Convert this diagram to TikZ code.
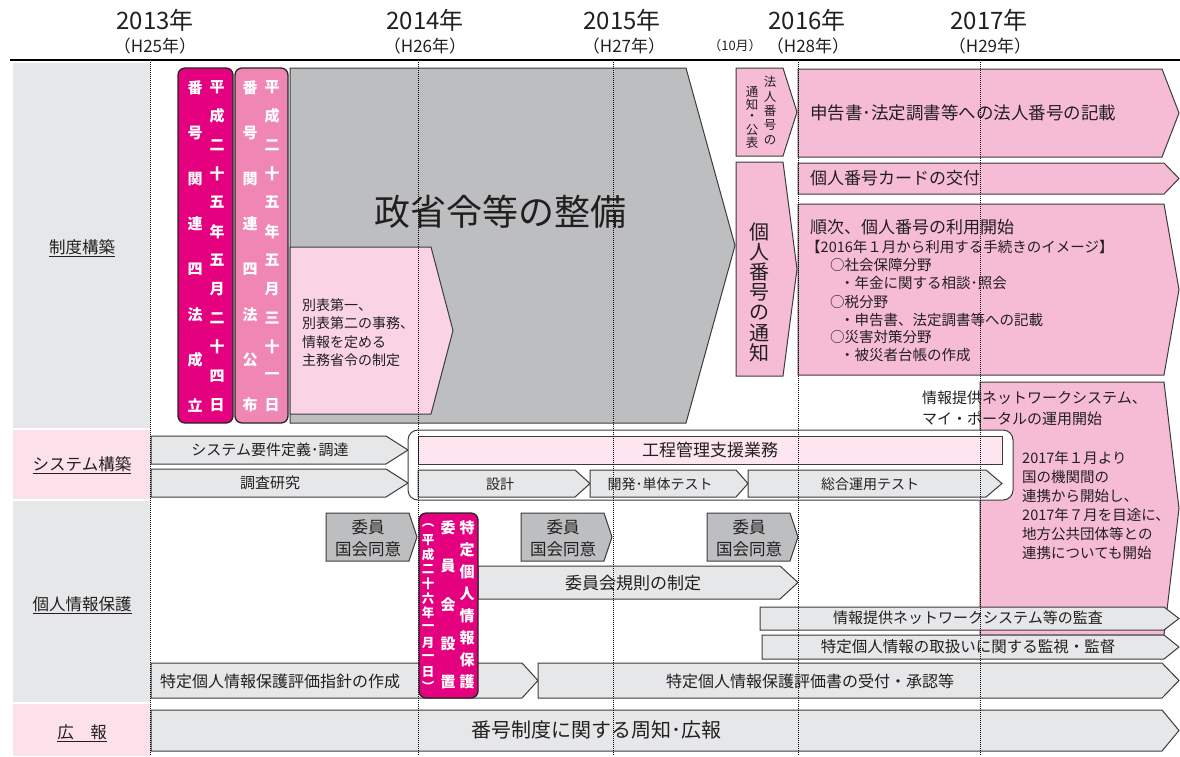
\documentclass[tikz,border=0pt]{standalone}
\usepackage{fontspec}
\setmainfont{Noto Sans CJK JP}
\definecolor{magentaA}{HTML}{E4007F}
\definecolor{pinkmid}{HTML}{EF86B4}
\definecolor{pinkarrow}{HTML}{F6BCD5}
\definecolor{pinklight}{HTML}{FAD4E4}
\definecolor{pinkpale}{HTML}{FDE6EF}
\definecolor{graydark}{HTML}{BCBEC0}
\definecolor{graylight}{HTML}{E6E7E8}
\definecolor{labelgray}{HTML}{E6E7E8}
\definecolor{labelpink}{HTML}{FCE1EB}
\definecolor{edgec}{HTML}{3C3C3C}
\definecolor{ink}{HTML}{231F20}
\newcommand\fs[1]{\fontsize{#1}{#1}\selectfont}
\newcommand\arrowshape[6]{%
  \draw[#1] (#2,#3) -- ({#4-#6},#3) -- (#4,{(#3+#5)/2}) -- ({#4-#6},#5) -- (#2,#5) -- cycle;}
\newcommand\vcolumn[5]{%
  \foreach \ch [count=\i from 0] in {#5} {\node[#4] at (#1,{#2+\i*#3}) {\ch};}}
\tikzset{
  lgarrow/.style={fill=graylight, draw=edgec, line width=1pt, line join=miter},
  dgarrow/.style={fill=graydark, draw=edgec, line width=1pt},
  pkarrow/.style={fill=pinkarrow, draw=edgec, line width=1pt},
  plarrow/.style={fill=pinklight, draw=edgec, line width=1pt},
  magbox/.style={draw=black!85, line width=1.3pt, rounded corners=7},
  txt/.style={inner sep=0pt, text=ink},
  vch/.style={inner sep=0pt, text=white, font=\bfseries\fs{15}},
  vchs/.style={inner sep=0pt, text=white, font=\bfseries\fs{12.5}},
  vsmall/.style={inner sep=0pt, text=ink, font=\fs{12.5}},
  vbig/.style={inner sep=0pt, text=ink, font=\fs{20}},
  gridl/.style={black, line width=0.7pt, dash pattern=on 1pt off 1pt},
  rowlabel/.style={inner sep=0pt, text=ink, font=\fs{16.5}},
  yearl/.style={inner sep=0pt, text=ink, font=\fs{24}},
  heil/.style={inner sep=0pt, text=ink, font=\fs{17}},
}
\begin{document}
\begin{tikzpicture}[x=1pt,y=-1pt]
\useasboundingbox (0,0) rectangle (1180,756);
% label column
\fill[labelgray] (13,63) rectangle (150,428);
\fill[labelpink] (13,430) rectangle (150,499);
\fill[labelgray] (13,501) rectangle (150,702);
\fill[labelpink] (13,704) rectangle (150,756);
\node[rowlabel] (lab1) at (82,248) {\underline{制度構築}};
\node[rowlabel] (lab2) at (82,465) {\underline{システム構築}};
\node[rowlabel] (lab3) at (82,605) {\underline{個人情報保護}};
\node[rowlabel] (lab4) at (82,733) {\underline{広　報}};
% header
\draw[line width=2pt, black] (10,60) -- (1180,60);
\node[yearl] (y13) at (155,20) {2013年};
\node[heil] (h25) at (155,46) {（H25年）};
\node[yearl] (y14) at (425,20) {2014年};
\node[heil] (h26) at (425,46) {（H26年）};
\node[yearl] (y15) at (622,20) {2015年};
\node[heil] (h27) at (624,46) {（H27年）};
\node[txt, font=\fs{13}] (oct) at (735,46) {（10月）};
\node[yearl] (y16) at (807,20) {2016年};
\node[heil] (h28) at (808,46) {（H28年）};
\node[yearl] (y17) at (989,20) {2017年};
\node[heil] (h29) at (990,46) {（H29年）};
% row 1
\arrowshape{dgarrow}{290}{68}{735}{423}{49}
\node[txt, font=\fs{36}] (seisho) at (500,212) {政省令等の整備};
\arrowshape{plarrow}{290}{247}{453}{414}{22}
\node[txt, anchor=north west, align=left, font=\fontsize{14}{18.5}\selectfont] (beppyo) at (302,298) {別表第一、\\別表第二の事務、\\情報を定める\\主務省令の制定};
\arrowshape{pkarrow}{736}{68}{797}{156}{14}
\vcolumn{770}{82}{14.5}{vsmall}{法,人,番,号,の}
\vcolumn{752}{92}{12.8}{vsmall}{通,知,・,公,表}
\arrowshape{pkarrow}{736}{162}{797}{376}{14}
\vcolumn{759}{232}{20.2}{vbig}{個,人,番,号,の,通,知}
\arrowshape{pkarrow}{798}{69}{1179}{157}{17}
\node[txt, anchor=west, font=\fs{17.5}] (shinkoku) at (810,113) {申告書･法定調書等への法人番号の記載};
\arrowshape{pkarrow}{798}{163}{1179}{194}{15}
\node[txt, anchor=west, font=\fs{17}] (card) at (810,178) {個人番号カードの交付};
\arrowshape{pkarrow}{798}{204}{1179}{375}{15}
\node[txt, anchor=west, font=\fs{17}] (junji) at (810,227) {順次、個人番号の利用開始};
\node[txt, anchor=west, font=\fs{14.5}] (img) at (806,247) {【2016年１月から利用する手続きのイメージ】};
\node[txt, anchor=west, font=\fs{14.5}] (j1) at (830,265) {○社会保障分野};
\node[txt, anchor=west, font=\fs{14.5}] (j2) at (840,283) {・年金に関する相談･照会};
\node[txt, anchor=west, font=\fs{14.5}] (j3) at (830,302) {○税分野};
\node[txt, anchor=west, font=\fs{14.5}] (j4) at (840,320) {・申告書、法定調書等への記載};
\node[txt, anchor=west, font=\fs{14.5}] (j5) at (830,337) {○災害対策分野};
\node[txt, anchor=west, font=\fs{14.5}] (j6) at (840,355) {・被災者台帳の作成};
% big pink on right
\arrowshape{pkarrow}{980}{382}{1179}{635}{15}
\node[txt, anchor=north west, align=left, font=\fontsize{15}{21}\selectfont] (netw) at (922,390.5) {情報提供ネットワークシステム、\\マイ・ポータルの運用開始};
\node[txt, anchor=north west, align=left, font=\fontsize{14.5}{19}\selectfont] (y2017) at (1022,451) {2017年１月より\\国の機関間の\\連携から開始し、\\2017年７月を目途に、\\地方公共団体等との\\連携についても開始};
% magenta boxes row 1
\draw[magbox, fill=magentaA] (178,68) rectangle (233,423);
\vcolumn{217}{87}{28.9}{vch}{平,成,二,十,五,年,五,月,二,十,四,日}
\vcolumn{195}{88}{45.3}{vch}{番,号,関,連,四,法,成,立}
\draw[magbox, fill=pinkmid] (235,68) rectangle (288,423);
\vcolumn{272}{87}{28.9}{vch}{平,成,二,十,五,年,五,月,三,十,一,日}
\vcolumn{250}{88}{45.3}{vch}{番,号,関,連,四,法,公,布}
% row 2
\arrowshape{lgarrow}{151}{436}{408}{464}{22}
\node[txt, font=\fs{15}] (youken) at (270,450) {システム要件定義･調達};
\arrowshape{lgarrow}{151}{469}{408}{497}{22}
\node[txt, font=\fs{15}] (chousa) at (270,483) {調査研究};
\draw[draw=edgec, line width=1pt, fill=white, rounded corners=10] (408,430) rectangle (1013,500);
\draw[draw=edgec, line width=1pt, fill=pinkpale] (418,436) rectangle (1002,464);
\node[txt, font=\fs{17}] (koutei) at (710,450) {工程管理支援業務};
\arrowshape{lgarrow}{418}{470}{590}{497}{15}
\node[txt, font=\fs{14}] (sekkei) at (500,484) {設計};
\arrowshape{lgarrow}{590}{470}{748}{497}{12}
\node[txt, font=\fs{14}] (kaihatsu) at (660,484) {開発･単体テスト};
\arrowshape{lgarrow}{748}{470}{1002}{497}{16}
\node[txt, font=\fs{14}] (sougou) at (870,484) {総合運用テスト};
% row 3
\arrowshape{dgarrow}{326}{513}{417}{561}{8}
\node[txt, font=\fs{16.5}] (iin1a) at (368,527) {委員};
\node[txt, font=\fs{16.5}] (iin1b) at (368,549) {国会同意};
\arrowshape{dgarrow}{521}{513}{612}{561}{8}
\node[txt, font=\fs{16.5}] (iin2a) at (563,527) {委員};
\node[txt, font=\fs{16.5}] (iin2b) at (563,549) {国会同意};
\arrowshape{dgarrow}{707}{513}{798}{561}{8}
\node[txt, font=\fs{16.5}] (iin3a) at (749,527) {委員};
\node[txt, font=\fs{16.5}] (iin3b) at (749,549) {国会同意};
\arrowshape{lgarrow}{478}{566}{798}{599}{18}
\node[txt, font=\fs{17}] (kisoku) at (633,583) {委員会規則の制定};
\arrowshape{lgarrow}{760}{607}{1179}{630}{15}
\node[txt, font=\fs{15}] (kansa) at (968,618) {情報提供ネットワークシステム等の監査};
\arrowshape{lgarrow}{762}{635}{1179}{659}{15}
\node[txt, font=\fs{15.5}] (kanshi) at (968,647) {特定個人情報の取扱いに関する監視・監督};
\arrowshape{lgarrow}{151}{663}{538}{698}{16}
\node[txt, anchor=west, font=\fs{16}] (shishin) at (160,681) {特定個人情報保護評価指針の作成};
\arrowshape{lgarrow}{538}{663}{1179}{698}{17}
\node[txt, font=\fs{16}] (uketsuke) at (810,681) {特定個人情報保護評価書の受付・承認等};
% row 4
\arrowshape{lgarrow}{151}{710}{1179}{751}{17}
\node[txt, font=\fs{20}] (kouhou) at (596,730) {番号制度に関する周知･広報};
% grid lines
\foreach \gx in {150,418,613,798,980} {\draw[gridl] (\gx,62) -- (\gx,756);}
% magenta box row 3
\draw[magbox, fill=magentaA] (419,513) rectangle (478,698);
\vcolumn{467}{528}{22}{vch}{特,定,個,人,情,報,保,護}
\vcolumn{448}{528}{38.5}{vch}{委,員,会,設,置}
\vcolumn{428}{525}{14.7}{vchs}{︵,平,成,二,十,六,年,一,月,一,日,︶}
\end{tikzpicture}
\end{document}
